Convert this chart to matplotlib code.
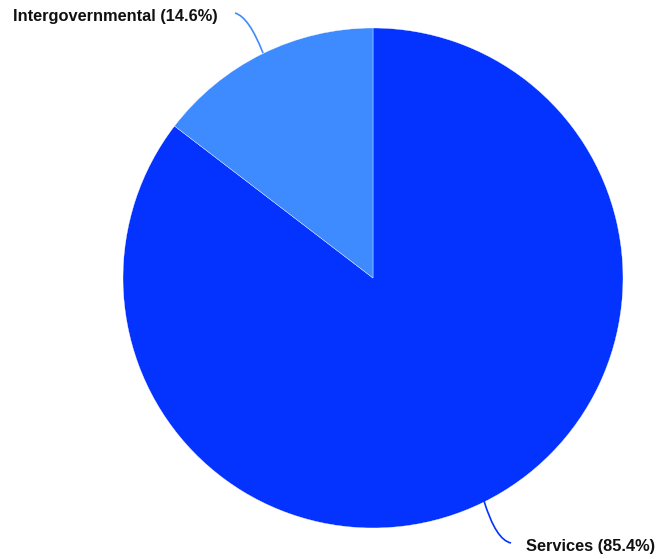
import matplotlib
matplotlib.use("Agg")
import matplotlib.pyplot as plt
from matplotlib.path import Path
from matplotlib.patches import PathPatch

categories = ["Services", "Intergovernmental"]
values = [85.4, 14.6]
colors = ["#0433ff", "#3d8bff"]

W, H = 657, 559
fig = plt.figure(figsize=(W / 100, H / 100), dpi=100)
ax = fig.add_axes([0, 0, 1, 1])

cx, cy, r = 373, H - 278, 250
ax.pie(values, colors=colors, startangle=90, counterclock=False,
       center=(cx, cy), radius=r, frame=True,
       wedgeprops=dict(edgecolor="white", linewidth=0.25))
ax.set_xlim(0, W)
ax.set_ylim(0, H)
ax.set_aspect("equal")
ax.axis("off")

def leader(p0, c, p1, color):
    path = Path([p0, c, p1], [Path.MOVETO, Path.CURVE3, Path.CURVE3])
    ax.add_patch(PathPatch(path, fill=False, edgecolor=color, linewidth=1.2))

# Intergovernmental
leader((263, H - 53), (249, H - 17), (235, H - 13), colors[1])
ax.text(218, H - 17, f"{categories[1]} ({values[1]}%)", ha="right", va="center",
        fontsize=11.8, fontweight="bold", family="Liberation Sans", color="#111111")
# Services
leader((484, H - 501), (496, H - 540), (511, H - 543), colors[0])
ax.text(526, H - 546, f"{categories[0]} ({values[0]}%)", ha="left", va="center",
        fontsize=11.8, fontweight="bold", family="Liberation Sans", color="#111111")

fig.savefig("out.png", dpi=100)
